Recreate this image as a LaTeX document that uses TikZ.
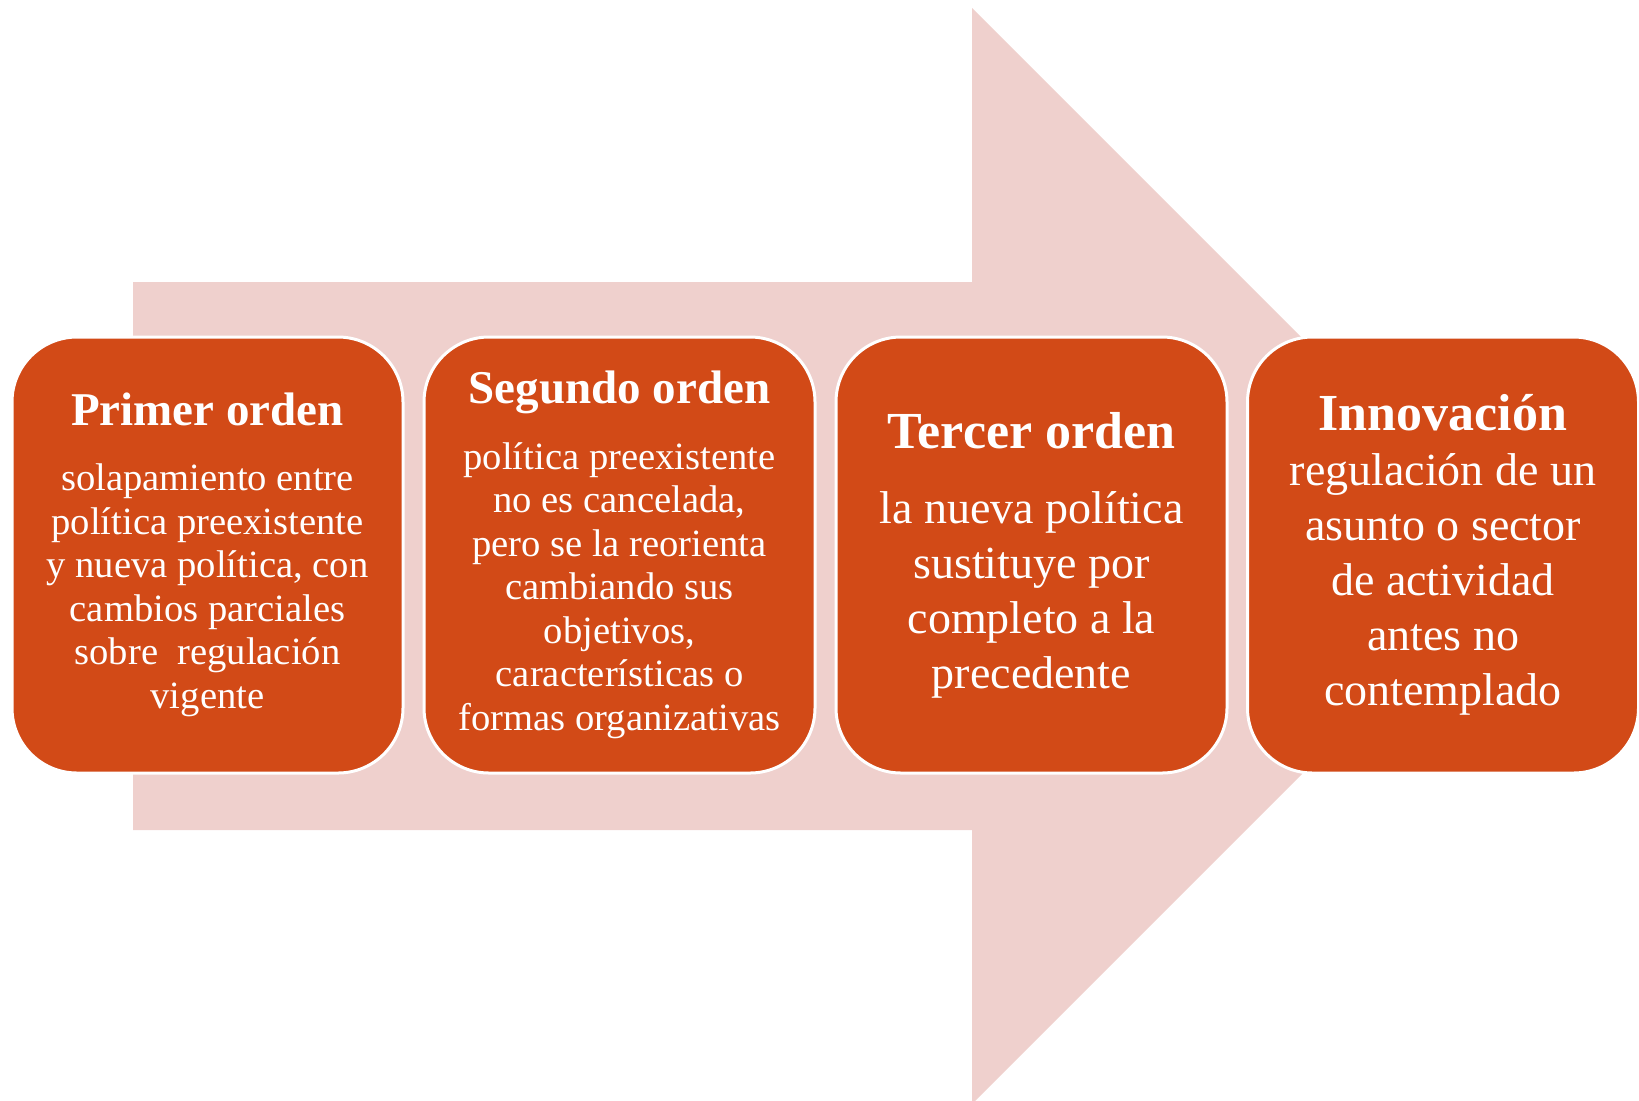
\documentclass[tikz,border=0pt]{standalone}
\usepackage{fontspec}
\setmainfont{Liberation Serif}
\newlength{\du}
\setlength{\du}{0.5pt}
\definecolor{stagefill}{RGB}{210,74,23}
\definecolor{arrowfill}{RGB}{239,208,205}
\tikzset{
  stagebox/.style={draw=white, line width=3\du, fill=stagefill, rounded corners=65\du,
    minimum width=391\du, minimum height=436\du, inner sep=0pt},
  stagetitle/.style={anchor=base, text=white, inner sep=0pt, font=\bfseries\fontsize{23.5}{26}\selectfont},
  bigtitle/.style={stagetitle, font=\bfseries\fontsize{26}{29}\selectfont},
  stagetext/.style={anchor=base, text=white, align=center, inner sep=0pt, font=\fontsize{19.3}{21.75}\selectfont},
  bigtext/.style={stagetext, font=\fontsize{23}{27.5}\selectfont}
}

\begin{document}
\begin{tikzpicture}
\pgftransformyscale{-1.000000}
\useasboundingbox (0\du,0\du) rectangle (1639\du,1100\du);
% flecha de fondo
\fill[arrowfill] (133\du,282\du)--(972\du,282\du)--(972\du,8\du)--(1520\du,556\du)--(972\du,1104\du)--(972\du,830\du)--(133\du,830\du)--cycle;
% cajas
\node[stagebox] (b1) at (207.5\du,555\du){};
\node[stagebox] (b2) at (619.5\du,555\du){};
\node[stagebox] (b3) at (1031.5\du,555\du){};
\node[stagebox] (b4) at (1443\du,555\du){};
% textos (base = ultima linea)
\node[stagetitle] (t1) at (207.5\du,425\du){Primer orden};
\node[stagetext] (d1) at (207.5\du,708\du){solapamiento entre\\política preexistente\\y nueva política, con\\cambios parciales\\sobre~ regulación\\vigente};
\node[stagetitle] (t2) at (619.5\du,403\du){Segundo orden};
\node[stagetext] (d2) at (619.5\du,730\du){política preexistente\\no es cancelada,\\pero se la reorienta\\cambiando sus\\objetivos,\\características o\\formas organizativas};
\node[bigtitle] (t3) at (1031.5\du,448\du){Tercer orden};
\node[bigtext] (d3) at (1031.5\du,688\du){la nueva política\\sustituye por\\completo a la\\precedente};
\node[bigtitle] (t4) at (1443\du,430\du){Innovación};
\node[bigtext] (d4) at (1443\du,705\du){regulación de un\\asunto o sector\\de actividad\\antes no\\contemplado};
\end{tikzpicture}
\end{document}
